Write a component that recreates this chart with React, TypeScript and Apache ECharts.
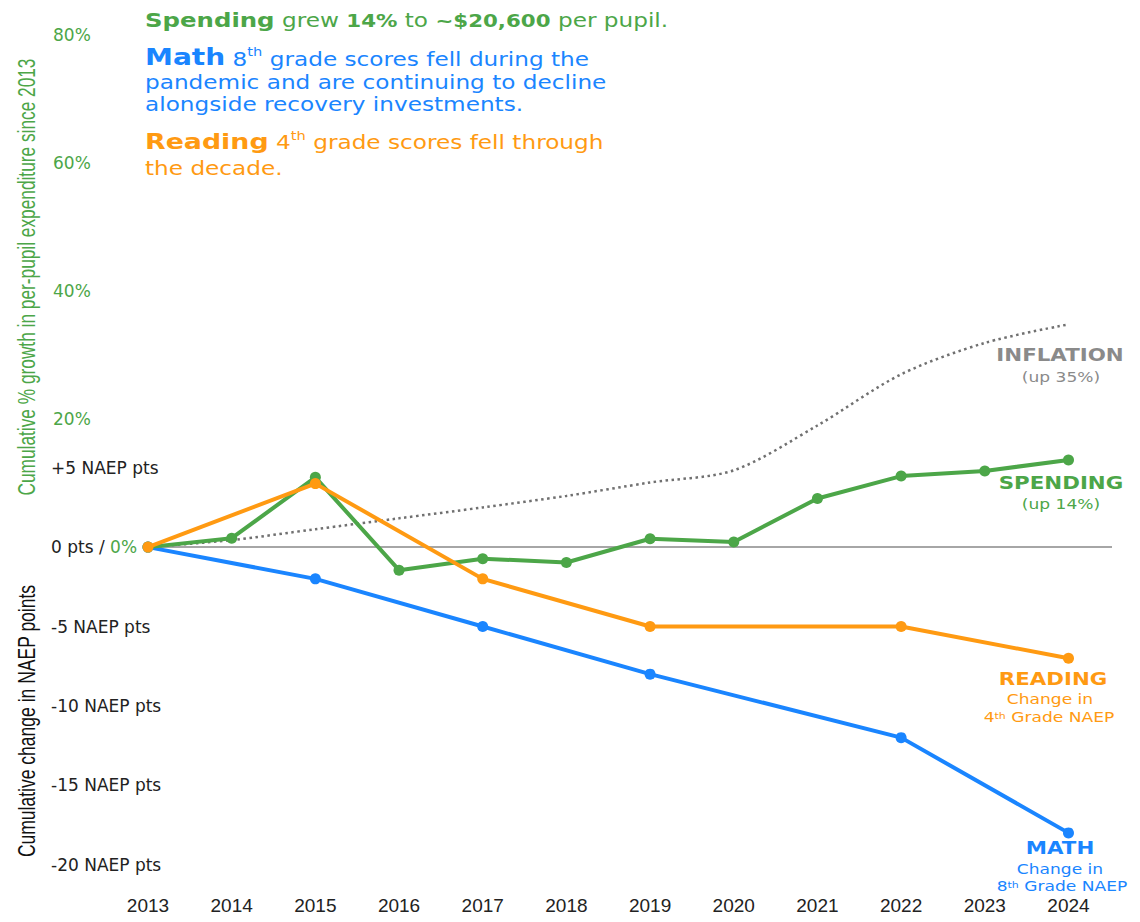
import React, { useEffect, useRef } from "react";
import * as echarts from "echarts";

// ---------- data ----------
const YEARS = [2013, 2014, 2015, 2016, 2017, 2018, 2019, 2020, 2021, 2022, 2023, 2024];
const SPENDING_PCT = [0, 1.4, 10.9, -3.6, -1.8, -2.4, 1.3, 0.8, 7.6, 11.1, 11.9, 13.6];
const INFLATION_PCT = [0, 1.1, 2.8, 4.5, 6.2, 8.0, 10.1, 12.0, 19.0, 27.0, 31.9, 34.8];
const READING_YEARS = [2013, 2015, 2017, 2019, 2022, 2024];
const READING_PTS = [0, 4, -2, -5, -5, -7];
const MATH_YEARS = [2013, 2015, 2017, 2019, 2022, 2024];
const MATH_PTS = [0, -2, -5, -8, -12, -18];
const PCT_TICKS = [20, 40, 60, 80];
const NAEP_TICKS = [5, 0, -5, -10, -15, -20];

// ---------- style ----------
const GREEN = "#4ca648";
const BLUE = "#1a85ff";
const ORANGE = "#ff9a12";
const GRAY = "#8a8a8a";
const DARK = "#222222";
const SANS = "'DejaVu Sans', Verdana, sans-serif";
const ARIAL = "'Liberation Sans', Arial, sans-serif";
const SX = 1.22;

const PCT_MIN = -52;
const PCT_MAX = 80;
const PCT_PER_PT = 2.48;

function txt(x: number, y: number, text: string, fill: string, fontSize: number, extra: any = {}) {
  const { align = "left", rich, fontWeight = "normal", fontFamily = SANS, rotation, scaleX = SX, scaleY = 1 } = extra;
  return {
    type: "text",
    x,
    y,
    scaleX,
    scaleY,
    rotation: rotation || 0,
    silent: true,
    style: {
      text,
      rich,
      fill,
      fontSize,
      fontWeight,
      fontFamily,
      align,
      verticalAlign: "middle",
      textAlign: align,
      textVerticalAlign: "middle",
    },
  };
}

function richSet(color: string, big: number, base: number, bold: number) {
  return {
    B: { fontSize: big, fontWeight: "bold", fill: color, fontFamily: SANS, verticalAlign: "bottom" },
    n: { fontSize: base, fill: color, fontFamily: SANS, verticalAlign: "bottom" },
    b: { fontSize: bold, fontWeight: "bold", fill: color, fontFamily: SANS, verticalAlign: "bottom" },
    s: { fontSize: Math.round(base * 0.62), fill: color, fontFamily: SANS, verticalAlign: "top" },
  };
}

export default function App() {
  const ref = useRef<HTMLDivElement>(null);

  useEffect(() => {
    if (!ref.current) return;
    const chart = echarts.init(ref.current, null, { renderer: "svg" });

    const lineSeries = (name: string, xs: number[], ys: number[], color: string, yAxisIndex: number, z: number) => ({
      name,
      type: "line",
      yAxisIndex,
      data: xs.map((x, i) => [x, ys[i]]),
      symbol: "circle",
      symbolSize: 11,
      showSymbol: true,
      z,
      lineStyle: { color, width: 4 },
      itemStyle: { color },
      emphasis: { disabled: true },
    });

    const topRich = richSet(GREEN, 20, 19, 17.5);
    const mathRich = richSet(BLUE, 23, 19, 18);
    const readRich = richSet(ORANGE, 22, 19, 18);
    const smallOrange = richSet(ORANGE, 16, 14, 14);
    const smallBlue = richSet(BLUE, 16, 14, 14);

    const option: any = {
      animation: false,
      backgroundColor: "#ffffff",
      grid: { left: 148, right: 28, top: 35, bottom: 42, containLabel: false },
      xAxis: {
        type: "value",
        min: 2013,
        max: 2024.52,
        axisLine: { show: false },
        axisTick: { show: false },
        splitLine: { show: false },
        axisLabel: {
          customValues: YEARS,
          formatter: (v: number) => String(v),
          color: DARK,
          fontSize: 19,
          fontFamily: ARIAL,
          margin: 16,
        },
      },
      yAxis: [
        {
          type: "value",
          min: PCT_MIN,
          max: PCT_MAX,
          position: "left",
          axisLine: { show: false },
          axisTick: { show: false },
          splitLine: { show: false },
          axisLabel: {
            customValues: PCT_TICKS,
            formatter: (v: number) => `${v}%`,
            color: GREEN,
            fontSize: 17,
            fontFamily: SANS,
            align: "left",
            margin: 95,
          },
        },
        {
          type: "value",
          min: PCT_MIN / PCT_PER_PT,
          max: PCT_MAX / PCT_PER_PT,
          position: "left",
          axisLine: { show: false },
          axisTick: { show: false },
          splitLine: { show: false },
          axisLabel: {
            customValues: NAEP_TICKS,
            formatter: (v: number) =>
              v === 0 ? "{a|0 pts / }{g|0%}" : `${v > 0 ? "+" : ""}${v} NAEP pts`,
            color: DARK,
            fontSize: 17,
            fontFamily: SANS,
            align: "left",
            margin: 97,
            rich: {
              a: { color: DARK, fontSize: 17, fontFamily: SANS },
              g: { color: GREEN, fontSize: 17, fontFamily: SANS },
            },
          },
        },
      ],
      series: [
        {
          name: "Inflation",
          type: "line",
          yAxisIndex: 0,
          data: YEARS.map((x, i) => [x, INFLATION_PCT[i]]),
          smooth: 0.3,
          showSymbol: false,
          symbol: "none",
          z: 1,
          lineStyle: { color: "#707070", width: 2.5, type: [2.5, 3.5] },
          emphasis: { disabled: true },
          markLine: {
            silent: true,
            symbol: "none",
            label: { show: false },
            lineStyle: { color: "#a6a6a6", width: 2, type: "solid" },
            data: [{ yAxis: 0 }],
            z: 0,
          },
        },
        lineSeries("Math", MATH_YEARS, MATH_PTS, BLUE, 1, 2),
        lineSeries("Spending", YEARS, SPENDING_PCT, GREEN, 0, 3),
        lineSeries("Reading", READING_YEARS, READING_PTS, ORANGE, 1, 4),
      ],
      graphic: [
        // axis titles
        txt(26, 277, "Cumulative % growth in per-pupil expenditure since 2013", GREEN, 24, {
          align: "center",
          fontFamily: ARIAL,
          rotation: Math.PI / 2,
          scaleX: 0.72,
        }),
        txt(26, 721, "Cumulative change in NAEP points", "#111111", 24, {
          align: "center",
          fontFamily: ARIAL,
          rotation: Math.PI / 2,
          scaleX: 0.73,
        }),
        // headline text
        txt(145, 20, "{B|Spending}{n| grew }{b|14%}{n| to }{b|~$20,600}{n| per pupil.}", GREEN, 19, { rich: topRich }),
        txt(145, 57, "{B|Math}{n| 8}{s|th}{n| grade scores fell during the}", BLUE, 19, { rich: mathRich }),
        txt(145, 82, "pandemic and are continuing to decline", BLUE, 19),
        txt(145, 104, "alongside recovery investments.", BLUE, 19),
        txt(145, 141, "{B|Reading}{n| 4}{s|th}{n| grade scores fell through}", ORANGE, 19, { rich: readRich }),
        txt(145, 168, "the decade.", ORANGE, 19),
        // right-side labels
        txt(1060, 355, "INFLATION", GRAY, 17.5, { align: "center", fontWeight: "bold" }),
        txt(1061, 378, "(up 35%)", GRAY, 14, { align: "center" }),
        txt(1061, 483, "SPENDING", GREEN, 17.5, { align: "center", fontWeight: "bold" }),
        txt(1061, 505, "(up 14%)", GREEN, 14, { align: "center" }),
        txt(1053, 679, "READING", ORANGE, 17.5, { align: "center", fontWeight: "bold" }),
        txt(1050, 700, "Change in", ORANGE, 14, { align: "center" }),
        txt(1049, 718, "{n|4}{s|th}{n| Grade NAEP}", ORANGE, 14, { align: "center", rich: smallOrange }),
        txt(1060, 848, "MATH", BLUE, 17.5, { align: "center", fontWeight: "bold" }),
        txt(1060, 870, "Change in", BLUE, 14, { align: "center" }),
        txt(1062, 887, "{n|8}{s|th}{n| Grade NAEP}", BLUE, 14, { align: "center", rich: smallBlue }),
      ],
    };

    chart.setOption(option);
    return () => chart.dispose();
  }, []);

  return (
    <div
      ref={ref}
      style={{ position: "fixed", left: 0, top: 0, width: 1140, height: 922, background: "#fff" }}
    />
  );
}
